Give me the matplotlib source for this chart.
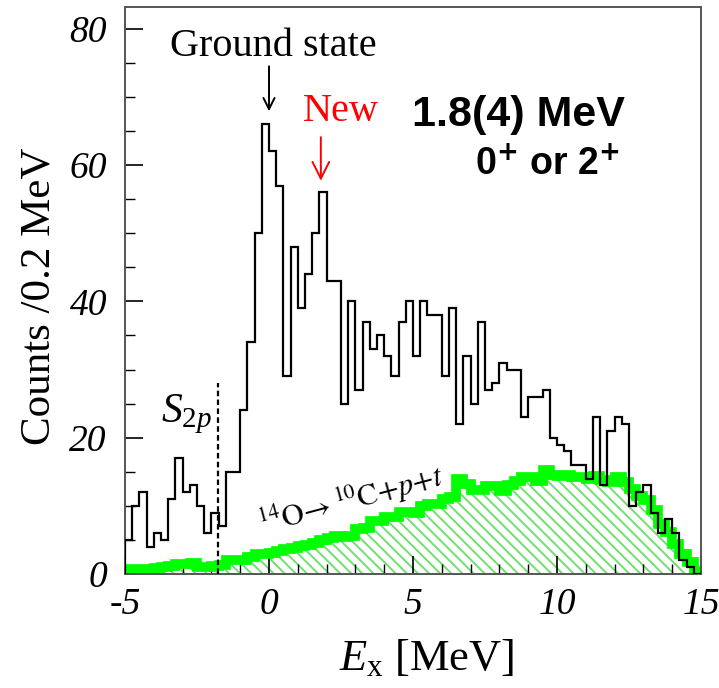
import numpy as np
import matplotlib
matplotlib.use("Agg")
import matplotlib.pyplot as plt

# ---------------- data ----------------
e_start = -5.0          # MeV, lower edge of first bin
bin_width = 0.25        # MeV
counts_data = [5, 10, 12, 4, 6, 5, 11, 17, 12, 13,
               10, 6, 9, 7, 15, 15, 24, 34, 50, 66,
               62, 57, 29, 48, 39, 44, 50, 56, 43, 43,
               25, 40, 27, 37, 33, 35, 32, 29, 37, 40,
               32, 40, 38, 38, 29, 39, 22, 32, 25, 37,
               27, 28, 31, 30, 30, 23, 26, 26, 27, 20,
               19, 18, 16, 16, 14, 23, 13, 21, 23, 22,
               10, 12, 13, 9, 6, 8, 6, 2, 1, 0]
counts_bg = [0.7, 0.7, 0.7, 0.7, 0.9, 1.0, 1.2, 1.4, 1.5, 1.6,
             1.0, 1.0, 1.2, 1.3, 2.0, 2.1, 2.0, 2.5, 2.9, 2.9,
             3.1, 3.4, 3.6, 3.8, 4.1, 4.2, 4.5, 5.0, 5.3, 5.6,
             5.5, 5.6, 6.6, 6.8, 7.8, 7.8, 8.3, 8.3, 9.1, 9.1,
             9.0, 10.0, 10.3, 10.3, 11.0, 11.3, 13.9, 13.2, 12.3, 12.3,
             12.9, 12.9, 12.2, 13.1, 13.7, 14.2, 14.2, 13.6, 15.2, 14.6,
             14.4, 14.6, 14.3, 14.3, 14.0, 14.4, 13.8, 13.5, 14.2, 13.5,
             12.4, 11.5, 10.8, 9.4, 7.4, 6.2, 4.4, 2.9, 1.7, 0.5]
x_ticks = [-5, 0, 5, 10, 15]
x_ticklabels = ["-5", "0", "5", "10", "15"]
y_ticks = [0, 20, 40, 60, 80]
y_ticklabels = ["0", "20", "40", "60", "80"]
s2p_energy = -1.78
ground_state_energy = 0.0
new_state_energy = 1.8

# ---------------- style ----------------
plt.rcParams["font.family"] = ["Liberation Serif", "DejaVu Serif"]
plt.rcParams["mathtext.fontset"] = "custom"
plt.rcParams["mathtext.rm"] = "Liberation Serif"
plt.rcParams["mathtext.it"] = "Liberation Serif:italic"
plt.rcParams["mathtext.bf"] = "Liberation Serif:bold"
plt.rcParams["hatch.linewidth"] = 1.4

W, H = 719, 688
fig = plt.figure(figsize=(W / 100, H / 100), dpi=100)
ax = fig.add_axes([125 / W, 1 - 574 / H, 576 / W, 567 / H])

edges = e_start + bin_width * np.arange(len(counts_data) + 1)

# background (hatched + thick green)
ax.stairs(counts_bg, edges, fill=True, hatch="\\\\\\", facecolor="none",
          edgecolor="#6fe06f", linewidth=0, zorder=1)
ax.stairs(counts_bg, edges, color="#00ff00", linewidth=7, zorder=2)
# data histogram
ax.stairs(counts_data, edges, color="black", linewidth=1.6, zorder=3)

# S2p dashed line
ax.plot([s2p_energy, s2p_energy], [0, 28], color="black", lw=1.6,
        ls=(0, (2.5, 1.5)), zorder=4)
ax.text(-3.74, 22.3, r"$S_{2p}$", fontsize=30, ha="left", va="baseline")

# annotations
ax.text(0.14, 76.0, "Ground state", fontsize=29, ha="center", va="baseline")
ax.annotate("", xy=(ground_state_energy, 67.9), xytext=(ground_state_energy, 74.5),
            arrowprops=dict(arrowstyle="->,head_length=0.8,head_width=0.4",
                            color="black", lw=1.4, shrinkA=0, shrinkB=0))
ax.text(2.5, 66.4, "New", fontsize=29, color="red", ha="center", va="baseline")
ax.annotate("", xy=(new_state_energy, 57.7), xytext=(new_state_energy, 64.1),
            arrowprops=dict(arrowstyle="->,head_length=1.2,head_width=0.6",
                            color="red", lw=1.4, shrinkA=0, shrinkB=0))
ax.text(8.65, 65.8, "1.8(4) MeV", fontsize=31, fontweight="bold",
        family=["Liberation Sans", "DejaVu Sans"], ha="center", va="baseline")
ax.text(12.2, 58.6, r"0$^{\mathbf{+}}$ or 2$^{\mathbf{+}}$", fontsize=27,
        fontweight="bold", family=["Liberation Sans", "DejaVu Sans"],
        math_fontfamily="dejavusans", ha="right", va="baseline")
ax.text(-0.24, 5.9, r"$^{14}\mathrm{O}\!\rightarrow{}^{10}\mathrm{C}{+}p{+}t$",
        fontsize=22, rotation=15, rotation_mode="anchor", ha="left",
        va="baseline", math_fontfamily="stix")

# axes
ax.set_xlim(-5, 15)
ax.set_ylim(0, 83.2)
ax.set_xticks(x_ticks)
ax.set_xticklabels(x_ticklabels, fontstyle="italic", fontsize=27)
ax.set_yticks(y_ticks)
ax.set_yticklabels(y_ticklabels, fontstyle="italic", fontsize=27)
ax.set_xticks(np.arange(-5, 16, 1), minor=True)
ax.set_yticks(np.arange(0, 84, 5), minor=True)
ax.tick_params(axis="both", which="major", direction="in", length=13, width=1.2,
               top=False, right=False)
ax.tick_params(axis="both", which="minor", direction="in", length=7, width=1.0,
               top=False, right=False)
ax.tick_params(axis="y", which="major", pad=13)
ax.tick_params(axis="x", which="major", pad=10)
for sp in ax.spines.values():
    sp.set_color("#555555")
    sp.set_linewidth(1.4)

ax.set_ylabel("Counts /0.2 MeV", fontsize=31)
ax.yaxis.set_label_coords(-0.116, 0.49)
ax.set_xlabel(r"$E_{\mathrm{x}}$ [MeV]", fontsize=32)
ax.xaxis.set_label_coords(0.524, -0.112)

fig.savefig("out.png", dpi=100)
